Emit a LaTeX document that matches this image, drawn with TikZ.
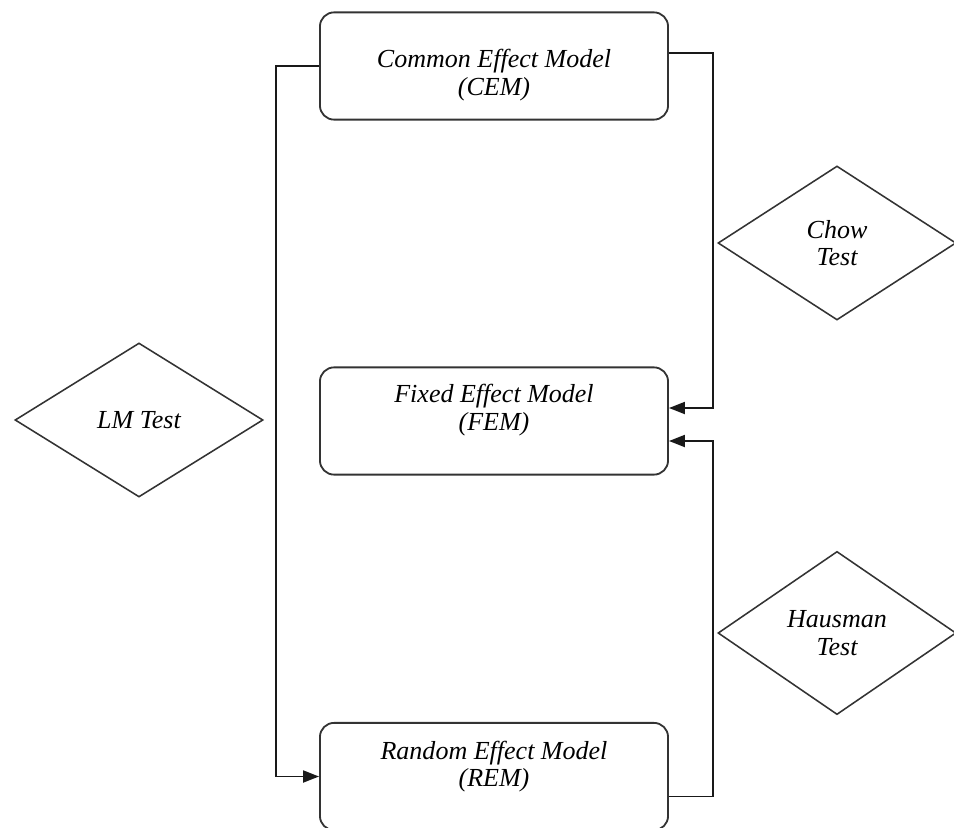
\documentclass[tikz,border=0pt]{standalone}
\usepackage{fontspec}
\setmainfont{Liberation Serif}
\usepackage{tikz}
\usetikzlibrary{shapes.geometric, arrows.meta, calc}

\begin{document}
\begin{tikzpicture}[
  x=0.025cm, y=-0.025cm,
  every node/.style={font=\fontsize{18.5}{19.5}\selectfont\itshape},
  model/.style={rectangle, rounded corners=10pt, draw=black!80, line width=1.3pt, fill=white,
    minimum width=8.7cm, minimum height=2.68cm},
  modeltext/.style={align=center, inner sep=0pt},
  test/.style={diamond, draw=black!80, line width=1.1pt, fill=white, align=center,
    minimum width=#1, minimum height=3.85cm},
  arr/.style={-{Triangle[length=4mm, width=3mm]}, line width=1.4pt, black!90}
]
\useasboundingbox (0,0) rectangle (954,828);

% ---- MODELS ----
\node[model] (cem) at (494,66) {};
\node[modeltext] (cemtext) at ($(cem.center)+(0,9)$) {Common Effect Model\\(CEM)};
\node[model] (fem) at (494,421) {};
\node[modeltext] (femtext) at ($(fem.center)+(0,-11)$) {Fixed Effect Model\\(FEM)};
\node[model] (rem) at (494,776.5) {};
\node[modeltext] (remtext) at ($(rem.center)+(0,-10)$) {Random Effect Model\\(REM)};

% ---- TESTS ----
\node[test=6.2cm] (lm) at (139,420) {LM Test};
\node[test=5.95cm] (chow) at (837,243) {Chow\\Test};
\node[test=5.95cm] (haus) at (837,633) {Hausman\\Test};

% ---- CONNECTIONS ----
\draw[arr] (cem.west) -- ++(-43,0) |- (rem.west);
\draw[arr] ($(cem.east)+(0,-13)$) -- ++(44,0) |- ($(fem.east)+(0,-13)$);
\draw[arr] ($(rem.east)+(0,20)$) -- ++(44,0) |- ($(fem.east)+(0,20)$);
\end{tikzpicture}
\end{document}
